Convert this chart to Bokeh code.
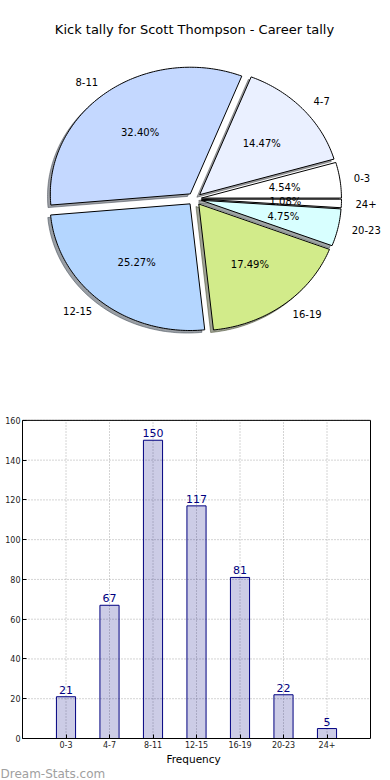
import numpy as np
from bokeh.plotting import figure
from bokeh.models import Range1d, LinearAxis, FixedTicker, Title
from bokeh.embed import file_html
from bokeh.resources import INLINE
from bokeh.core.properties import value

# ---- data ----
categories = ["0-3", "4-7", "8-11", "12-15", "16-19", "20-23", "24+"]
counts = [21, 67, 150, 117, 81, 22, 5]
pie_colors = ["#ffffff", "#eaf0ff", "#c4d8ff", "#b4d6ff", "#d2eb8a", "#d8ffff", "#ffffff"]
title_text = "Kick tally for Scott Thompson - Career tally"
x_label = "Frequency"
y_ticks = [0, 20, 40, 60, 80, 100, 120, 140, 160]
watermark = "Dream-Stats.com"

FONT = value("DejaVu Sans")

# ---- layout (page pixels) ----
W, H = 390, 780
L, B = 22, 40                  # left / bottom borders (axes)
FW, FH = W - L, H - B          # frame size
BX0, BX1 = 22, 370             # bar plot area, x
BY_TOP, BY_BOT = 421, 740      # bar plot area, y
PCX, PCY = 194, 199            # pie centre
RX, RY = 140, 127              # pie radii (non-equal aspect as in the original)

nx = len(categories) + 1
ux = (BX1 - BX0) / nx
uy = (BY_BOT - BY_TOP) / (y_ticks[-1] - y_ticks[0])

p = figure(width=W, height=H, output_backend="svg", toolbar_location=None,
           x_range=Range1d(0, nx + (W - BX1) / ux),
           y_range=Range1d(y_ticks[0], y_ticks[-1] + BY_TOP / uy),
           x_axis_location=None, y_axis_location=None,
           min_border_left=L, min_border_right=0, min_border_top=0, min_border_bottom=B)
p.outline_line_color = None
p.grid.visible = False
p.extra_x_ranges = {"px": Range1d(-(PCX - L) / RX, (W - PCX) / RX)}
p.extra_y_ranges = {"py": Range1d(-(BY_BOT - PCY) / RY, PCY / RY)}

# ---- pie ----
vals = np.array(counts, dtype=float)
fr = vals / vals.sum()
edges = np.concatenate([[0.0], np.cumsum(fr)]) * 2 * np.pi
explode = 0.05
sh = -0.02

wx, wy, sx_, sy_, shc = [], [], [], [], []
lab_x, lab_y, lab_al, pct_x, pct_y, pct_t = [], [], [], [], [], []
for i, c in enumerate(pie_colors):
    t1, t2 = edges[i], edges[i + 1]
    tm = 0.5 * (t1 + t2)
    ox, oy = explode * np.cos(tm), explode * np.sin(tm)
    n = max(3, int(np.degrees(t2 - t1)) + 2)
    arc = np.linspace(t1, t2, n)
    xs = [ox] + list(ox + np.cos(arc)) + [ox]
    ys = [oy] + list(oy + np.sin(arc)) + [oy]
    wx.append(xs); wy.append(ys)
    sx_.append([x + sh for x in xs]); sy_.append([y + sh for y in ys])
    r, g, b = int(c[1:3], 16), int(c[3:5], 16), int(c[5:7], 16)
    shc.append("#%02x%02x%02x" % (int(r * 0.3), int(g * 0.3), int(b * 0.3)))
    lx = ox + 1.1 * np.cos(tm); ly = oy + 1.1 * np.sin(tm)
    lab_x.append(lx); lab_y.append(ly)
    lab_al.append("left" if lx > 0 else "right")
    pct_x.append(ox + 0.6 * np.cos(tm)); pct_y.append(oy + 0.6 * np.sin(tm))
    pct_t.append("%.2f%%" % (fr[i] * 100))

pk = dict(x_range_name="px", y_range_name="py")
p.patches(xs=sx_, ys=sy_, fill_color=shc, fill_alpha=0.5,
          line_color=shc, line_alpha=0.5, line_width=1, **pk)
p.patches(xs=wx, ys=wy, fill_color=pie_colors, line_color="black", line_width=1, **pk)
p.text(x=lab_x, y=lab_y, text=categories, text_align=lab_al, text_baseline="middle",
       text_font=FONT, text_font_size="10px", text_color="black", **pk)
p.text(x=pct_x, y=pct_y, text=pct_t, text_align="center", text_baseline="middle",
       text_font=FONT, text_font_size="10px", text_color="black", **pk)
p.text(x=[0], y=[(PCY - 29.5) / RY], text=[title_text], text_align="center",
       text_baseline="middle", text_font=FONT, text_font_size="13px",
       text_color="black", **pk)

# ---- bars ----
positions = list(range(1, len(categories) + 1))
# dotted grid (drawn below the translucent bars)
p.segment(x0=positions, y0=[y_ticks[0]] * len(positions), x1=positions,
          y1=[y_ticks[-1]] * len(positions), line_color="#a8a8a8", line_dash="1 2",
          line_width=1)
p.segment(x0=[0] * len(y_ticks), y0=y_ticks, x1=[nx] * len(y_ticks), y1=y_ticks,
          line_color="#a8a8a8", line_dash="1 2", line_width=1)
p.vbar(x=positions, top=counts, width=0.44, fill_color="#000080", fill_alpha=0.2,
       line_color="#000080", line_width=1)
p.quad(left=[0], right=[nx], bottom=[y_ticks[0]], top=[y_ticks[-1]],
       fill_color=None, line_color="black", line_width=1)
p.text(x=positions, y=counts, text=[str(c) for c in counts], text_align="center",
       text_baseline="bottom", y_offset=-3, text_font=FONT, text_font_size="11px",
       text_color="#000080")

xa = LinearAxis(bounds=(0, nx), ticker=FixedTicker(ticks=positions))
xa.major_label_overrides = {pp: c for pp, c in zip(positions, categories)}
ya = LinearAxis(bounds=(y_ticks[0], y_ticks[-1]), ticker=FixedTicker(ticks=y_ticks))
for ax in (xa, ya):
    ax.major_tick_in = 4
    ax.major_tick_out = 0
    ax.minor_tick_line_color = None
    ax.axis_line_color = "black"
    ax.major_tick_line_color = "black"
    ax.major_label_text_font = "DejaVu Sans"
    ax.major_label_text_font_size = "8px"
    ax.major_label_text_color = "#222222"
    ax.major_label_standoff = 2
p.add_layout(ya, "left")
p.add_layout(xa, "below")
p.add_layout(Title(text=x_label, align="left", offset=166 - L, standoff=0,
                   text_font="DejaVu Sans", text_font_size="10.5px",
                   text_font_style="normal", text_color="black"), "below")
p.add_layout(Title(text=watermark, align="left", offset=-L, standoff=0,
                   text_font="DejaVu Sans", text_font_size="12px",
                   text_font_style="normal", text_color="#a0a0a0"), "below")

open("out.html", "w").write(file_html(p, INLINE))
